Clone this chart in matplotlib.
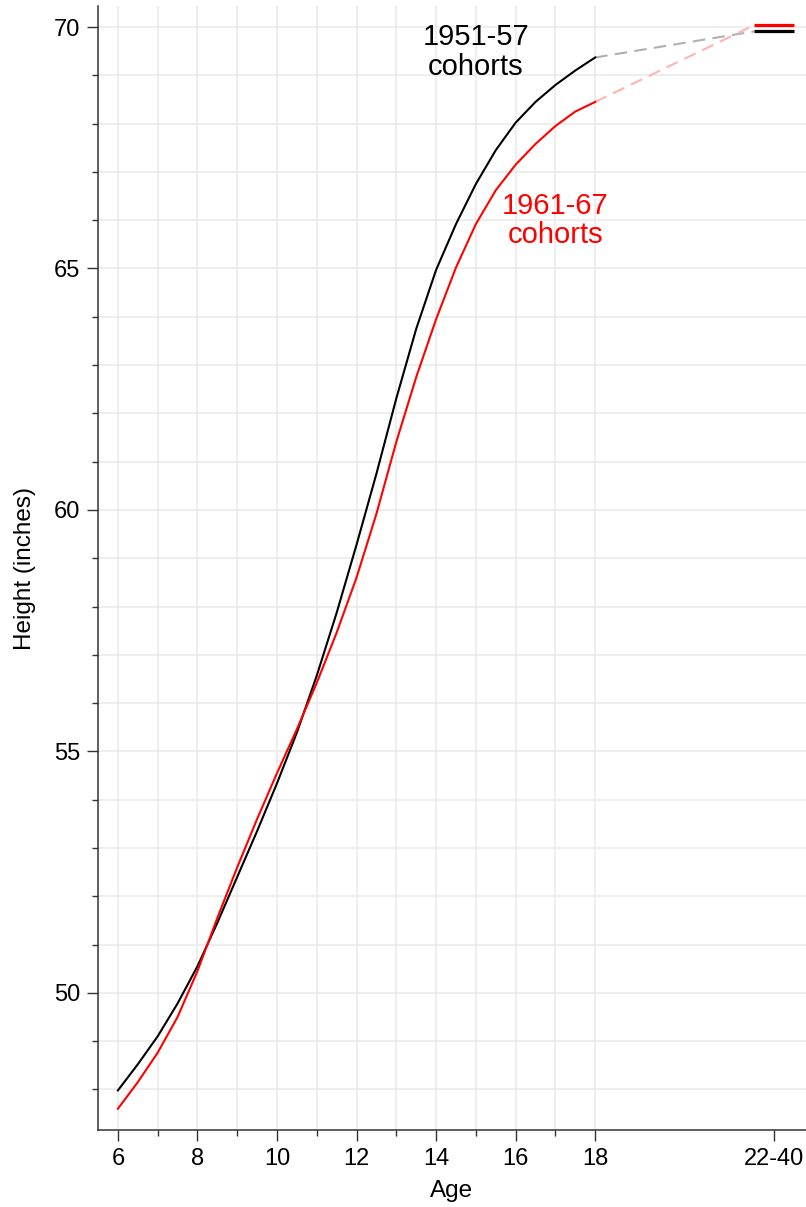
import matplotlib
matplotlib.use("Agg")
import matplotlib.pyplot as plt
from matplotlib.ticker import MultipleLocator, FixedLocator

plt.rcParams['font.family'] = ['Liberation Sans', 'DejaVu Sans']

# ages 6 to 18 in half-year steps
ages = [6, 6.5, 7, 7.5, 8, 8.5, 9, 9.5, 10, 10.5, 11, 11.5, 12,
        12.5, 13, 13.5, 14, 14.5, 15, 15.5, 16, 16.5, 17, 17.5, 18]

# 1951-57 cohorts (black)
h_5157 = [47.98, 48.52, 49.10, 49.78, 50.55, 51.45, 52.40, 53.35, 54.34,
          55.39, 56.57, 57.87, 59.28, 60.75, 62.31, 63.75, 64.97, 65.92,
          66.75, 67.45, 68.02, 68.45, 68.80, 69.10, 69.37]

# 1961-67 cohorts (red)
h_6167 = [47.60, 48.15, 48.76, 49.50, 50.45, 51.55, 52.60, 53.60, 54.55,
          55.46, 56.42, 57.46, 58.60, 59.92, 61.41, 62.75, 63.95, 65.02,
          65.92, 66.62, 67.15, 67.58, 67.95, 68.25, 68.45]

# adult heights (ages 22-40)
adult_x = [22, 23]
adult_5157 = 69.91
adult_6167 = 70.04

xtick_pos = [6, 8, 10, 12, 14, 16, 18, 22.5]
xtick_lab = ['6', '8', '10', '12', '14', '16', '18', '22-40']

fig = plt.figure(figsize=(8.06, 12.07), dpi=100)
ax = fig.add_axes([0.1216, 0.0638, 0.8784, 0.931])

# grid
for a in range(6, 19):
    ax.axvline(a, color='#ebebeb', lw=1.2, zorder=0)
for h in range(48, 71):
    ax.axhline(h, color='#ebebeb', lw=1.2, zorder=0)

# dashed links to adult height
ax.plot([ages[-1], adult_x[0]], [h_5157[-1], adult_5157], color='#b0b0b0',
        lw=1.5, dashes=(6, 3.5), zorder=2)
ax.plot([ages[-1], adult_x[0]], [h_6167[-1], adult_6167], color='#ffb3b3',
        lw=1.5, dashes=(6, 3.5), zorder=2)

ax.plot(ages, h_5157, color='black', lw=1.5, zorder=3)
ax.plot(ages, h_6167, color='red', lw=1.5, zorder=3)

ax.plot(adult_x, [adult_5157] * 2, color='black', lw=2.3, solid_capstyle='butt')
ax.plot(adult_x, [adult_6167] * 2, color='red', lw=2.3, solid_capstyle='butt')

ax.text(15.0, 69.48, '1951-57\ncohorts', color='black', fontsize=21,
        ha='center', va='center', linespacing=1.06)
ax.text(17.0, 66.0, '1961-67\ncohorts', color='red', fontsize=21,
        ha='center', va='center', linespacing=1.06)

ax.set_xlim(5.5, 23.3)
ax.set_ylim(47.16, 70.43)

ax.xaxis.set_major_locator(FixedLocator(xtick_pos))
ax.set_xticklabels(xtick_lab)
ax.xaxis.set_minor_locator(FixedLocator([7, 9, 11, 13, 15, 17]))
ax.yaxis.set_major_locator(MultipleLocator(5))
ax.yaxis.set_minor_locator(MultipleLocator(1))

ax.tick_params(which='major', length=8, width=1, color='#333333',
               labelsize=17, pad=5)
ax.tick_params(which='minor', length=4.3, width=1, color='#333333')

for s in ['top', 'right']:
    ax.spines[s].set_visible(False)
for s in ['left', 'bottom']:
    ax.spines[s].set_color('#333333')
    ax.spines[s].set_linewidth(1.1)

ax.set_xlabel('Age', fontsize=17.5, labelpad=7)
ax.set_ylabel('Height (inches)', fontsize=17.5, labelpad=13)

fig.savefig('out.png', dpi=100)
